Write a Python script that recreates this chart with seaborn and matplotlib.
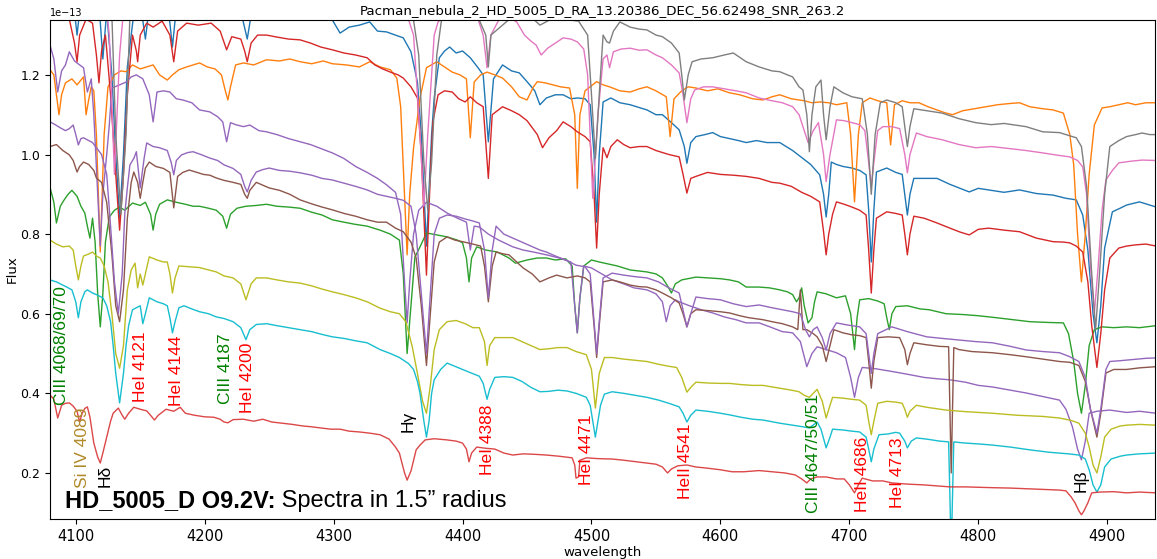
import numpy as np
import matplotlib
matplotlib.use("Agg")
import matplotlib.pyplot as plt
import seaborn as sns

# fluxes are in units of 1e-13 (shown as the exponent above the y axis)

# (wavelength, flux) points, one list per spectrum
blue = [(4080,1.42),(4095,1.41),(4099,1.36),(4101,1.30),(4103,1.36),(4110,1.41),(4118,1.38),(4121,1.24),(4124,1.36),
        (4128,1.20),(4131,1.00),(4134,0.84),(4137,1.00),(4140,1.22),(4146,1.38),(4151,1.36),(4154,1.29),(4157,1.37),
        (4165,1.40),(4172,1.36),(4175,1.27),(4178,1.37),(4190,1.40),(4205,1.39),(4215,1.38),(4228,1.36),(4233,1.29),
        (4237,1.37),(4255,1.37),(4275,1.36),(4290,1.35),(4299,1.338),(4305,1.305),(4312,1.32),(4320,1.325),(4328,1.333),
        (4334,1.31),(4341,1.308),(4348,1.30),(4354,1.293),(4360,1.258),(4365,1.182),(4368,1.05),(4372,0.77),(4376,1.05),
        (4378,1.142),(4382,1.243),(4386,1.26),(4390,1.27),(4395,1.255),(4400,1.26),(4406,1.243),(4412,1.218),(4416,1.20),
        (4420,1.032),(4424,1.19),(4428,1.21),(4431,1.225),(4438,1.21),(4444,1.205),(4450,1.183),(4456,1.16),(4460,1.125),
        (4465,1.142),(4472,1.15),(4478,1.15),(4484,1.14),(4489,1.142),(4495,1.14),(4499,1.125),(4502,1.0),(4504,0.83),
        (4506,1.0),(4509,1.132),(4515,1.142),(4522,1.13),(4530,1.125),(4537,1.118),(4543,1.112),(4550,1.10),(4555,1.10),
        (4562,1.08),(4568,1.062),(4572,1.02),(4574,0.978),(4577,1.03),(4581,1.045),(4588,1.05),(4594,1.055),(4600,1.045),
        (4607,1.04),(4614,1.035),(4620,1.03),(4628,1.035),(4636,1.03),(4646,1.03),(4656,1.01),(4664,0.99),(4670,0.975),
        (4677,0.949),(4680,0.90),(4682,0.843),(4684,0.90),(4686,0.981),(4690,0.975),(4695,0.97),(4702,0.966),(4708,0.96),
        (4713,0.949),(4715,0.86),(4717,0.73),(4719,0.86),(4721,0.956),(4729,0.966),(4736,0.955),(4741,0.95),(4743,0.90),
        (4745,0.848),(4747,0.90),(4750,0.94),(4758,0.94),(4768,0.94),(4778,0.925),(4786,0.915),(4793,0.906),(4800,0.915),
        (4810,0.91),(4820,0.905),(4832,0.911),(4845,0.902),(4858,0.898),(4868,0.89),(4876,0.886),(4881,0.848),(4885,0.76),
        (4889,0.60),(4892,0.527),(4895,0.62),(4898,0.765),(4904,0.856),(4910,0.865),(4915,0.873),(4925,0.881),(4931,0.875),
        (4938,0.868)]

orange = [(4080,1.213),(4083,1.20),(4085,1.15),(4087,1.10),(4089,1.15),(4092,1.18),(4097,1.19),(4101,1.175),(4106,1.195),
          (4108,1.10),(4110,1.137),(4112,1.17),(4114,1.16),(4116,1.05),(4119,0.755),(4122,1.05),(4125,1.17),(4130,1.20),
          (4135,1.21),(4139,1.208),(4144,1.225),(4150,1.215),(4155,1.22),(4160,1.225),(4165,1.20),(4171,1.187),(4175,1.20),
          (4180,1.213),(4186,1.22),(4191,1.225),(4196,1.23),(4202,1.22),(4208,1.215),(4213,1.20),(4216,1.16),(4218,1.137),
          (4220,1.17),(4224,1.225),(4230,1.23),(4238,1.225),(4248,1.238),(4258,1.235),(4266,1.24),(4274,1.233),(4283,1.228),
          (4292,1.235),(4299,1.228),(4310,1.225),(4320,1.22),(4328,1.233),(4336,1.22),(4344,1.213),(4349,1.192),(4352,1.12),
          (4355,0.9),(4357,0.748),(4359,0.9),(4362,1.017),(4367,1.142),(4372,1.218),(4380,1.233),(4386,1.22),(4392,1.207),
          (4398,1.20),(4403,1.19),(4406,1.042),(4409,1.182),(4414,1.20),(4419,1.207),(4425,1.20),(4431,1.192),(4438,1.17),
          (4444,1.145),(4450,1.137),(4455,1.17),(4458,1.183),(4464,1.18),(4470,1.175),(4476,1.17),(4483,1.167),(4487,1.10),
          (4489,0.915),(4491,1.10),(4495,1.16),(4504,1.183),(4509,1.175),(4514,1.17),(4522,1.16),(4530,1.157),(4537,1.165),
          (4543,1.17),(4550,1.16),(4558,1.145),(4561,1.045),(4564,1.14),(4570,1.16),(4575,1.17),(4581,1.167),(4590,1.16),
          (4598,1.165),(4607,1.155),(4615,1.15),(4625,1.14),(4633,1.137),(4640,1.145),(4646,1.15),(4655,1.14),(4665,1.135),
          (4671,1.13),(4677,1.132),(4684,1.13),(4690,1.125),(4698,1.13),(4701,1.05),(4704,0.881),(4707,1.05),(4710,1.13),
          (4716,1.142),(4722,1.135),(4729,1.13),(4732,1.024),(4735,1.125),(4741,1.135),(4747,1.13),(4754,1.13),(4761,1.12),
          (4768,1.112),(4774,1.105),(4780,1.10),(4788,1.11),(4797,1.115),(4806,1.12),(4815,1.125),(4824,1.128),(4832,1.13),
          (4840,1.12),(4850,1.115),(4858,1.112),(4866,1.104),(4871,1.05),(4874,0.974),(4877,0.80),(4880,0.68),(4883,0.80),
          (4886,0.95),(4890,1.074),(4896,1.117),(4902,1.12),(4909,1.125),(4916,1.13),(4922,1.125),(4930,1.13),(4938,1.13)]

green = [(4080,0.918),(4083,0.88),(4085,0.828),(4088,0.87),(4091,0.886),(4094,0.90),(4097,0.91),(4101,0.895),(4104,0.87),
         (4107,0.853),(4109,0.82),(4111,0.79),(4113,0.84),(4115,0.78),(4117,0.65),(4119,0.567),(4121,0.65),(4123,0.78),
         (4126,0.843),(4130,0.86),(4134,0.868),(4138,0.86),(4144,0.878),(4150,0.872),(4154,0.88),(4158,0.85),(4160,0.81),
         (4162,0.85),(4165,0.875),(4171,0.886),(4178,0.88),(4185,0.875),(4191,0.87),(4196,0.87),(4203,0.865),(4209,0.86),
         (4214,0.845),(4217,0.815),(4220,0.85),(4225,0.865),(4232,0.87),(4240,0.872),(4248,0.875),(4256,0.87),(4265,0.868),
         (4274,0.865),(4283,0.855),(4291,0.848),(4299,0.836),(4308,0.83),(4316,0.825),(4326,0.82),(4336,0.81),(4344,0.80),
         (4351,0.785),(4354,0.70),(4357,0.50),(4360,0.62),(4363,0.742),(4367,0.768),(4372,0.803),(4380,0.798),(4388,0.793),
         (4396,0.785),(4400,0.778),(4403,0.74),(4405,0.68),(4407,0.74),(4411,0.768),(4418,0.76),(4427,0.755),(4436,0.74),
         (4441,0.727),(4450,0.735),(4458,0.74),(4465,0.74),(4472,0.735),(4480,0.738),(4485,0.72),(4487,0.62),(4489,0.552),
         (4491,0.64),(4494,0.72),(4500,0.735),(4506,0.73),(4513,0.725),(4520,0.72),(4530,0.71),(4543,0.705),(4550,0.70),
         (4555,0.69),(4559,0.67),(4562,0.652),(4565,0.675),(4570,0.685),(4581,0.692),(4590,0.69),(4600,0.688),(4607,0.685),
         (4614,0.68),(4620,0.667),(4630,0.667),(4638,0.665),(4646,0.66),(4652,0.655),(4656,0.648),(4659,0.63),(4661,0.64),
         (4663,0.665),(4665,0.62),(4668,0.577),(4671,0.59),(4673,0.63),(4675,0.655),(4682,0.65),(4690,0.64),(4697,0.645),
         (4701,0.60),(4704,0.51),(4706,0.59),(4708,0.635),(4715,0.638),(4722,0.632),(4727,0.625),(4729,0.59),(4731,0.56),
         (4733,0.60),(4736,0.618),(4745,0.62),(4755,0.612),(4762,0.61),(4775,0.60),(4788,0.598),(4800,0.595),(4814,0.59),
         (4827,0.585),(4840,0.58),(4855,0.578),(4866,0.577),(4870,0.55),(4874,0.48),(4877,0.40),(4880,0.35),(4883,0.42),
         (4886,0.52),(4890,0.56),(4896,0.567),(4905,0.565),(4915,0.567),(4925,0.565),(4938,0.57)]

red_top = [(4080,1.36),(4088,1.35),(4095,1.34),(4099,1.28),(4101,1.233),(4103,1.30),(4108,1.34),(4113,1.33),(4116,1.25),
           (4118,1.18),(4120,1.26),(4123,1.30),(4127,1.15),(4131,0.95),(4134,0.81),(4137,0.95),(4140,1.15),(4144,1.30),
           (4147,1.26),(4148,1.233),(4150,1.30),(4155,1.33),(4160,1.32),(4167,1.335),(4173,1.30),(4176,1.233),(4179,1.31),
           (4186,1.33),(4195,1.325),(4205,1.33),(4212,1.31),(4217,1.263),(4221,1.296),(4228,1.29),(4231,1.26),(4233,1.233),
           (4236,1.28),(4241,1.30),(4248,1.30),(4256,1.295),(4265,1.29),(4274,1.288),(4282,1.28),(4290,1.27),(4299,1.263),
           (4308,1.255),(4317,1.25),(4326,1.243),(4332,1.225),(4338,1.215),(4344,1.207),(4350,1.20),(4354,1.192),(4360,1.17),
           (4365,1.142),(4368,1.00),(4372,0.697),(4375,0.95),(4377,1.082),(4381,1.15),(4386,1.16),(4392,1.157),(4397,1.14),
           (4402,1.132),(4406,1.145),(4411,1.13),(4416,1.12),(4420,0.94),(4423,1.10),(4427,1.11),(4431,1.12),(4438,1.11),
           (4444,1.10),(4450,1.085),(4458,1.05),(4462,1.017),(4467,1.042),(4473,1.06),(4478,1.082),(4484,1.07),(4489,1.057),
           (4495,1.045),(4499,1.032),(4502,0.90),(4504,0.765),(4506,0.90),(4509,1.017),(4512,0.992),(4515,1.02),(4520,1.037),
           (4525,1.025),(4530,1.017),(4537,1.02),(4543,1.02),(4550,1.01),(4560,1.00),(4568,0.994),(4571,0.95),(4574,0.903),
           (4577,0.94),(4581,0.945),(4590,0.955),(4600,0.95),(4610,0.948),(4620,0.945),(4630,0.94),(4640,0.93),(4646,0.928),
           (4655,0.92),(4663,0.905),(4670,0.895),(4677,0.881),(4680,0.806),(4682,0.748),(4684,0.80),(4687,0.85),(4690,0.881),
           (4696,0.875),(4702,0.868),(4708,0.86),(4713,0.848),(4715,0.76),(4717,0.652),(4719,0.76),(4721,0.84),(4729,0.856),
           (4736,0.852),(4741,0.848),(4743,0.80),(4745,0.748),(4747,0.80),(4750,0.845),(4758,0.84),(4768,0.828),(4778,0.815),
           (4786,0.805),(4793,0.798),(4800,0.812),(4808,0.815),(4820,0.81),(4832,0.806),(4845,0.79),(4858,0.781),(4866,0.78),
           (4871,0.778),(4876,0.77),(4881,0.755),(4885,0.68),(4888,0.57),(4892,0.465),(4895,0.55),(4898,0.66),(4902,0.74),
           (4909,0.765),(4915,0.77),(4922,0.773),(4930,0.775),(4938,0.77)]

purple_a = [(4080,1.275),(4083,1.24),(4086,1.157),(4089,1.21),(4092,1.225),(4095,1.258),(4099,1.235),(4103,1.225),
            (4106,1.218),(4109,1.157),(4112,1.19),(4114,1.10),(4117,0.90),(4119,0.77),(4121,0.90),(4124,1.00),(4126,1.074),
            (4128,1.167),(4134,1.175),(4139,1.182),(4143,1.195),(4147,1.20),(4152,1.19),(4157,1.15),(4160,1.082),(4163,1.157),
            (4168,1.16),(4173,1.157),(4178,1.14),(4183,1.137),(4190,1.13),(4196,1.112),(4204,1.107),(4210,1.095),(4214,1.082),
            (4217,1.032),(4220,1.08),(4224,1.075),(4230,1.07),(4235,1.074),(4242,1.06),(4248,1.057),(4256,1.05),(4265,1.04),
            (4274,1.032),(4282,1.025),(4290,1.015),(4299,1.004),(4308,0.99),(4317,0.97),(4326,0.955),(4334,0.94),(4341,0.924),
            (4348,0.905),(4352,0.85),(4355,0.68),(4357,0.577),(4359,0.68),(4362,0.80),(4366,0.86),(4372,0.88),(4380,0.87),
            (4388,0.853),(4396,0.84),(4403,0.83),(4406,0.76),(4409,0.82),(4413,0.818),(4420,0.80),(4428,0.785),(4439,0.768),
            (4447,0.76),(4455,0.755),(4465,0.748),(4475,0.74),(4484,0.73),(4487,0.62),(4489,0.552),(4491,0.64),(4494,0.72),
            (4500,0.715),(4508,0.70),(4516,0.685),(4525,0.675),(4533,0.665),(4543,0.66),(4550,0.65),(4555,0.63),(4558,0.58),
            (4561,0.62),(4565,0.635),(4568,0.63),(4576,0.62),(4585,0.61),(4594,0.602),(4603,0.592),(4612,0.585),(4620,0.577),
            (4630,0.577),(4640,0.565),(4648,0.555),(4656,0.552),(4662,0.53),(4667,0.467),(4671,0.50),(4675,0.517),(4682,0.51),
            (4690,0.502),(4697,0.49),(4701,0.44),(4704,0.39),(4707,0.44),(4710,0.465),(4720,0.462),(4733,0.455),(4745,0.448),
            (4758,0.44),(4770,0.436),(4778,0.434),(4790,0.428),(4800,0.42),(4811,0.416),(4825,0.408),(4837,0.401),(4850,0.392),
            (4863,0.383),(4868,0.36),(4873,0.316),(4877,0.26),(4880,0.233),(4883,0.28),(4886,0.35),(4892,0.355),(4902,0.358),
            (4915,0.352),(4925,0.355),(4938,0.35)]

brown = [(4080,1.02),(4085,1.025),(4090,1.01),(4095,0.999),(4098,0.985),(4101,0.956),(4103,0.97),(4106,0.981),(4110,0.975),
         (4114,0.96),(4116,0.941),(4120,0.93),(4124,0.88),(4128,0.75),(4131,0.62),(4134,0.58),(4137,0.66),(4140,0.84),
         (4143,0.93),(4145,0.956),(4148,0.93),(4150,0.89),(4152,0.93),(4154,0.966),(4157,0.981),(4162,0.97),(4168,0.965),
         (4173,0.955),(4176,0.866),(4179,0.945),(4183,0.955),(4188,0.961),(4194,0.955),(4199,0.95),(4204,0.948),(4209,0.941),
         (4215,0.935),(4222,0.93),(4228,0.925),(4231,0.90),(4233,0.89),(4235,0.91),(4240,0.93),(4250,0.916),(4258,0.91),
         (4266,0.90),(4274,0.886),(4283,0.876),(4291,0.868),(4299,0.861),(4308,0.852),(4317,0.845),(4326,0.836),(4334,0.83),
         (4341,0.83),(4348,0.815),(4354,0.806),(4360,0.78),(4364,0.74),(4368,0.62),(4372,0.47),(4375,0.60),(4378,0.73),
         (4382,0.78),(4388,0.793),(4394,0.785),(4400,0.781),(4408,0.775),(4414,0.77),(4417,0.72),(4420,0.63),(4423,0.72),
         (4426,0.755),(4432,0.75),(4436,0.748),(4442,0.73),(4447,0.715),(4454,0.70),(4460,0.68),(4467,0.69),(4473,0.697),
         (4481,0.69),(4489,0.695),(4495,0.69),(4499,0.68),(4502,0.57),(4504,0.49),(4506,0.57),(4509,0.68),(4516,0.685),
         (4522,0.68),(4530,0.672),(4537,0.668),(4543,0.667),(4550,0.66),(4555,0.652),(4562,0.64),(4568,0.627),(4571,0.60),
         (4574,0.567),(4577,0.60),(4581,0.61),(4590,0.608),(4600,0.605),(4607,0.602),(4615,0.595),(4622,0.59),(4633,0.585),
         (4640,0.58),(4648,0.575),(4656,0.567),(4660,0.56),(4662,0.66),(4664,0.56),(4667,0.56),(4672,0.55),(4675,0.542),
         (4679,0.52),(4682,0.48),(4685,0.52),(4688,0.56),(4695,0.552),(4702,0.547),(4708,0.545),(4713,0.54),(4715,0.48),
         (4717,0.413),(4719,0.48),(4722,0.54),(4730,0.542),(4739,0.54),(4743,0.51),(4745,0.472),(4747,0.50),(4750,0.527),
         (4760,0.522),(4770,0.518),(4777,0.517),(4779,0.20),(4781,0.515),(4785,0.51),(4795,0.505),(4811,0.502),(4825,0.497),
         (4837,0.492),(4850,0.486),(4863,0.48),(4871,0.478),(4878,0.47),(4883,0.43),(4887,0.36),(4892,0.29),(4895,0.35),
         (4899,0.451),(4905,0.46),(4915,0.46),(4925,0.464),(4938,0.467)]

pink = [(4080,1.52),(4100,1.50),(4120,1.48),(4126,1.30),(4130,0.95),(4134,1.25),(4140,1.47),(4160,1.46),(4175,1.40),
        (4180,1.45),(4200,1.44),(4230,1.42),(4260,1.41),(4300,1.40),(4330,1.39),(4355,1.37),(4362,1.30),(4367,1.05),
        (4370,0.87),(4373,1.05),(4378,1.30),(4381,1.333),(4390,1.36),(4400,1.37),(4410,1.36),(4416,1.30),(4419,1.218),
        (4422,1.30),(4430,1.35),(4438,1.34),(4442,1.333),(4448,1.30),(4453,1.285),(4457,1.275),(4461,1.25),(4466,1.267),
        (4472,1.28),(4478,1.293),(4484,1.29),(4489,1.283),(4494,1.265),(4497,1.20),(4501,0.89),(4505,1.10),(4509,1.24),
        (4512,1.25),(4514,1.218),(4517,1.258),(4523,1.265),(4530,1.267),(4537,1.262),(4543,1.263),(4550,1.25),(4555,1.243),
        (4562,1.225),(4568,1.205),(4571,1.15),(4574,1.08),(4577,1.14),(4580,1.162),(4587,1.17),(4594,1.17),(4603,1.165),
        (4612,1.16),(4620,1.155),(4630,1.142),(4640,1.135),(4648,1.13),(4656,1.12),(4661,1.10),(4664,1.07),(4668,1.03),
        (4672,1.06),(4676,1.08),(4680,1.00),(4682,0.932),(4685,1.00),(4690,1.087),(4696,1.085),(4702,1.08),(4708,1.075),
        (4712,1.06),(4715,0.98),(4717,0.92),(4719,0.98),(4722,1.06),(4726,1.07),(4733,1.07),(4739,1.065),(4743,1.00),
        (4745,0.954),(4747,1.00),(4752,1.054),(4760,1.045),(4772,1.037),(4785,1.025),(4798,1.017),(4810,1.02),(4824,1.015),
        (4837,1.01),(4850,1.004),(4862,0.998),(4871,0.994),(4877,0.985),(4881,0.969),(4884,0.90),(4887,0.72),(4890,0.60),
        (4893,0.72),(4896,0.86),(4899,0.936),(4904,0.96),(4909,0.979),(4918,0.983),(4927,0.986),(4938,0.985)]

gray = [(4080,1.60),(4100,1.58),(4120,1.55),(4128,1.35),(4131,1.05),(4135,0.85),(4139,1.05),(4142,1.35),(4150,1.53),
        (4175,1.50),(4200,1.48),(4230,1.46),(4260,1.44),(4300,1.42),(4340,1.40),(4360,1.38),(4366,1.25),(4370,0.98),
        (4373,0.86),(4376,0.98),(4380,1.25),(4385,1.37),(4410,1.36),(4418,1.30),(4420,1.22),(4422,1.30),(4440,1.35),
        (4455,1.34),(4460,1.325),(4467,1.337),(4478,1.34),(4490,1.335),(4497,1.30),(4500,1.15),(4503,0.99),(4506,1.15),
        (4509,1.30),(4512,1.283),(4514,1.28),(4517,1.31),(4522,1.333),(4530,1.32),(4537,1.315),(4543,1.313),(4550,1.30),
        (4555,1.296),(4562,1.28),(4568,1.255),(4570,1.20),(4572,1.137),(4575,1.20),(4578,1.233),(4585,1.24),(4594,1.243),
        (4603,1.25),(4610,1.255),(4620,1.233),(4630,1.22),(4640,1.21),(4646,1.208),(4652,1.20),(4656,1.195),(4661,1.17),
        (4664,1.162),(4667,1.10),(4669,1.007),(4671,1.10),(4674,1.17),(4678,1.187),(4680,1.10),(4682,1.037),(4685,1.12),
        (4688,1.17),(4695,1.155),(4702,1.145),(4710,1.14),(4714,1.05),(4717,0.90),(4720,1.05),(4724,1.13),(4729,1.137),
        (4736,1.13),(4741,1.12),(4743,1.07),(4745,1.02),(4747,1.07),(4750,1.115),(4760,1.11),(4772,1.104),(4785,1.09),
        (4798,1.08),(4810,1.075),(4820,1.078),(4837,1.07),(4850,1.057),(4863,1.055),(4870,1.048),(4876,1.042),(4880,1.02),
        (4884,0.92),(4888,0.70),(4891,0.56),(4894,0.70),(4898,0.90),(4902,1.02),(4909,1.035),(4915,1.045),(4922,1.05),
        (4927,1.054),(4933,1.05),(4938,1.05)]

olive = [(4080,0.785),(4085,0.775),(4090,0.768),(4095,0.77),(4098,0.76),(4100,0.72),(4102,0.685),(4104,0.72),(4106,0.745),
         (4110,0.75),(4113,0.755),(4116,0.745),(4119,0.74),(4122,0.72),(4125,0.68),(4128,0.60),(4131,0.50),(4134,0.463),
         (4137,0.52),(4140,0.66),(4143,0.71),(4146,0.727),(4148,0.665),(4150,0.70),(4152,0.672),(4154,0.70),(4157,0.743),
         (4163,0.735),(4168,0.73),(4171,0.73),(4173,0.70),(4175,0.652),(4177,0.69),(4180,0.72),(4188,0.718),(4196,0.716),
         (4203,0.71),(4209,0.705),(4215,0.695),(4222,0.69),(4228,0.675),(4232,0.635),(4236,0.675),(4240,0.69),(4248,0.69),
         (4256,0.685),(4265,0.68),(4274,0.677),(4283,0.67),(4291,0.662),(4299,0.655),(4308,0.648),(4317,0.64),(4326,0.63),
         (4336,0.614),(4344,0.605),(4351,0.60),(4356,0.58),(4361,0.517),(4365,0.45),(4369,0.38),(4372,0.35),(4375,0.42),
         (4378,0.51),(4382,0.56),(4388,0.58),(4395,0.583),(4402,0.575),(4408,0.565),(4413,0.565),(4417,0.53),(4419,0.47),
         (4421,0.52),(4425,0.54),(4432,0.54),(4439,0.54),(4446,0.53),(4453,0.52),(4460,0.51),(4467,0.512),(4474,0.515),
         (4481,0.515),(4488,0.505),(4496,0.497),(4500,0.46),(4503,0.363),(4506,0.45),(4510,0.49),(4516,0.49),(4525,0.486),
         (4534,0.483),(4543,0.48),(4552,0.473),(4560,0.468),(4566,0.465),(4570,0.44),(4574,0.403),(4577,0.415),(4581,0.428),
         (4590,0.426),(4600,0.425),(4607,0.425),(4616,0.422),(4625,0.42),(4633,0.42),(4646,0.413),(4655,0.408),(4661,0.404),
         (4665,0.395),(4669,0.39),(4672,0.40),(4675,0.41),(4679,0.38),(4682,0.338),(4685,0.37),(4687,0.39),(4695,0.388),
         (4702,0.385),(4708,0.383),(4713,0.37),(4715,0.33),(4717,0.296),(4719,0.33),(4722,0.375),(4729,0.38),(4736,0.378),
         (4741,0.375),(4743,0.36),(4745,0.34),(4747,0.355),(4752,0.37),(4760,0.365),(4775,0.358),(4790,0.354),(4811,0.35),
         (4830,0.345),(4850,0.342),(4863,0.338),(4872,0.332),(4878,0.325),(4883,0.30),(4886,0.265),(4889,0.22),(4892,0.2),
         (4895,0.24),(4898,0.29),(4903,0.31),(4910,0.318),(4915,0.32),(4925,0.322),(4938,0.32)]

cyan = [(4080,0.685),(4085,0.68),(4090,0.672),(4093,0.667),(4097,0.66),(4100,0.63),(4102,0.59),(4104,0.63),(4107,0.655),
        (4109,0.66),(4113,0.652),(4116,0.648),(4121,0.64),(4124,0.62),(4127,0.58),(4129,0.52),(4131,0.45),(4134,0.376),
        (4137,0.45),(4139,0.52),(4141,0.57),(4144,0.61),(4147,0.615),(4150,0.62),(4152,0.575),(4154,0.60),(4157,0.64),
        (4163,0.63),(4168,0.625),(4171,0.62),(4173,0.59),(4175,0.552),(4177,0.58),(4180,0.615),(4184,0.62),(4190,0.612),
        (4196,0.605),(4203,0.60),(4209,0.592),(4215,0.588),(4222,0.58),(4228,0.565),(4232,0.535),(4235,0.56),(4240,0.573),
        (4248,0.575),(4256,0.57),(4265,0.565),(4274,0.56),(4283,0.555),(4291,0.548),(4299,0.542),(4308,0.538),(4317,0.532),
        (4326,0.527),(4336,0.51),(4344,0.50),(4351,0.49),(4358,0.475),(4362,0.46),(4365,0.43),(4367,0.40),(4370,0.33),
        (4372,0.29),(4374,0.33),(4376,0.40),(4378,0.434),(4383,0.46),(4388,0.476),(4394,0.468),(4400,0.46),(4406,0.452),
        (4413,0.443),(4416,0.425),(4419,0.385),(4421,0.41),(4425,0.44),(4432,0.442),(4439,0.44),(4446,0.43),(4453,0.415),
        (4460,0.404),(4467,0.405),(4474,0.408),(4481,0.406),(4488,0.40),(4496,0.39),(4499,0.37),(4501,0.33),(4503,0.29),
        (4505,0.33),(4507,0.37),(4510,0.398),(4516,0.404),(4525,0.40),(4534,0.395),(4543,0.39),(4552,0.383),(4560,0.375),
        (4568,0.366),(4571,0.35),(4574,0.328),(4577,0.345),(4581,0.358),(4590,0.355),(4600,0.35),(4607,0.346),(4616,0.34),
        (4625,0.335),(4633,0.333),(4646,0.325),(4656,0.32),(4664,0.316),(4669,0.313),(4675,0.328),(4678,0.31),(4682,0.263),
        (4685,0.29),(4687,0.31),(4695,0.308),(4702,0.305),(4708,0.303),(4713,0.29),(4715,0.26),(4717,0.228),(4719,0.26),
        (4723,0.296),(4730,0.298),(4736,0.302),(4739,0.30),(4743,0.28),(4745,0.263),(4748,0.28),(4752,0.288),(4760,0.285),
        (4770,0.28),(4777,0.278),(4779,0.0),(4781,0.278),(4790,0.275),(4800,0.273),(4811,0.27),(4825,0.265),(4840,0.258),
        (4855,0.252),(4863,0.25),(4870,0.248),(4878,0.245),(4883,0.235),(4886,0.208),(4889,0.17),(4892,0.152),(4895,0.17),
        (4898,0.215),(4903,0.235),(4910,0.242),(4915,0.245),(4925,0.248),(4938,0.25)]

purple_b = [(4080,1.082),(4084,1.075),(4088,1.067),(4092,1.06),(4095,1.065),(4098,1.074),(4100,1.05),(4102,1.024),(4104,1.04),
            (4106,1.042),(4110,1.035),(4113,1.03),(4116,1.017),(4120,1.00),(4124,0.95),(4127,0.82),(4130,0.68),(4133,0.60),
            (4136,0.70),(4138,0.85),(4140,0.916),(4142,0.974),(4145,0.99),(4147,1.007),(4150,0.916),(4153,0.99),(4155,1.029),
            (4160,1.02),(4165,1.017),(4171,1.01),(4174,0.98),(4176,0.949),(4178,0.985),(4182,0.999),(4187,1.005),(4191,1.007),
            (4197,1.0),(4204,0.991),(4210,0.985),(4215,0.974),(4222,0.965),(4228,0.95),(4231,0.92),(4233,0.906),(4236,0.935),
            (4240,0.956),(4245,0.962),(4250,0.966),(4258,0.96),(4266,0.958),(4274,0.954),(4283,0.948),(4291,0.94),(4299,0.936),
            (4308,0.928),(4317,0.92),(4326,0.911),(4334,0.90),(4341,0.895),(4348,0.89),(4354,0.885),(4360,0.87),(4364,0.80),
            (4368,0.65),(4372,0.50),(4375,0.65),(4378,0.80),(4382,0.84),(4388,0.848),(4395,0.845),(4402,0.838),(4408,0.833),
            (4413,0.828),(4417,0.76),(4420,0.64),(4423,0.76),(4426,0.82),(4432,0.80),(4439,0.79),(4446,0.78),(4453,0.77),
            (4460,0.76),(4465,0.755),(4472,0.745),(4480,0.735),(4488,0.722),(4495,0.718),(4499,0.70),(4502,0.58),(4504,0.50),
            (4506,0.58),(4509,0.69),(4516,0.702),(4525,0.697),(4534,0.693),(4543,0.69),(4552,0.68),(4560,0.665),(4568,0.652),
            (4571,0.61),(4574,0.567),(4577,0.60),(4581,0.642),(4590,0.638),(4600,0.635),(4610,0.625),(4620,0.618),(4630,0.622),
            (4640,0.615),(4648,0.61),(4656,0.605),(4662,0.60),(4666,0.56),(4669,0.542),(4672,0.56),(4675,0.567),(4679,0.54),
            (4682,0.509),(4685,0.55),(4690,0.577),(4698,0.572),(4708,0.567),(4713,0.55),(4715,0.50),(4717,0.45),(4719,0.50),
            (4722,0.55),(4733,0.567),(4745,0.555),(4760,0.542),(4772,0.538),(4785,0.534),(4798,0.53),(4811,0.527),(4825,0.518),
            (4837,0.509),(4850,0.505),(4863,0.502),(4871,0.492),(4878,0.48),(4883,0.44),(4887,0.36),(4892,0.30),(4895,0.36),
            (4899,0.46),(4902,0.48),(4910,0.482),(4920,0.485),(4930,0.488),(4938,0.489)]

red_low = [(4080,0.396),(4083,0.385),(4086,0.338),(4089,0.37),(4092,0.375),(4095,0.376),(4098,0.368),(4101,0.355),(4103,0.328),
           (4105,0.35),(4107,0.362),(4109,0.366),(4111,0.34),(4114,0.275),(4117,0.24),(4119,0.225),(4121,0.25),(4124,0.29),
           (4127,0.33),(4129,0.35),(4133,0.363),(4136,0.345),(4138,0.335),(4141,0.35),(4145,0.365),(4150,0.36),(4155,0.356),
           (4158,0.345),(4161,0.333),(4164,0.345),(4170,0.36),(4176,0.355),(4181,0.365),(4185,0.35),(4192,0.345),(4200,0.341),
           (4207,0.34),(4212,0.335),(4215,0.328),(4218,0.326),(4222,0.334),(4230,0.335),(4238,0.33),(4245,0.335),(4252,0.328),
           (4260,0.325),(4268,0.322),(4276,0.318),(4283,0.316),(4290,0.313),(4298,0.31),(4305,0.31),(4312,0.305),(4320,0.303),
           (4328,0.30),(4336,0.296),(4343,0.285),(4348,0.265),(4351,0.25),(4355,0.20),(4357,0.182),(4360,0.205),(4364,0.258),
           (4367,0.27),(4371,0.283),(4378,0.286),(4388,0.283),(4395,0.28),(4400,0.275),(4403,0.26),(4405,0.228),(4407,0.25),
           (4411,0.265),(4418,0.262),(4425,0.26),(4432,0.25),(4439,0.245),(4447,0.248),(4455,0.247),(4465,0.245),(4475,0.242),
           (4485,0.238),(4487,0.22),(4488,0.187),(4490,0.19),(4491,0.232),(4496,0.238),(4505,0.236),(4516,0.235),(4525,0.232),
           (4535,0.228),(4543,0.225),(4550,0.222),(4555,0.215),(4559,0.20),(4562,0.21),(4567,0.218),(4574,0.22),(4581,0.215),
           (4590,0.212),(4600,0.208),(4609,0.203),(4618,0.203),(4630,0.206),(4640,0.203),(4650,0.20),(4658,0.195),(4663,0.185),
           (4667,0.175),(4670,0.185),(4675,0.19),(4682,0.19),(4690,0.185),(4696,0.185),(4700,0.17),(4704,0.15),(4707,0.17),
           (4710,0.187),(4718,0.18),(4726,0.18),(4733,0.175),(4745,0.172),(4758,0.17),(4770,0.167),(4778,0.165),(4790,0.165),
           (4800,0.164),(4811,0.163),(4825,0.162),(4840,0.16),(4855,0.158),(4863,0.157),(4868,0.155),(4872,0.14),(4875,0.125),
           (4878,0.105),(4880,0.095),(4882,0.105),(4885,0.125),(4888,0.15),(4894,0.152),(4905,0.153),(4915,0.15),(4925,0.152),
           (4938,0.15)]

# line identifications: label, wavelength position, flux position (bottom of rotated text)
line_labels = ["CIII 4068/69/70", "Si IV 4089", "H\u03b4", "HeI 4121", "HeI 4144", "CIII 4187", "HeI 4200",
               "H\u03b3", "HeI 4388", "HeI 4471", "HeII 4541", "CIII 4647/50/51", "HeII 4686", "HeI 4713", "H\u03b2"]
label_wl = [4089, 4105, 4123, 4150, 4178, 4216, 4233, 4358, 4419, 4496, 4573, 4672, 4710, 4737, 4880]
label_fx = [0.371, 0.162, 0.165, 0.378, 0.368, 0.373, 0.351, 0.303, 0.195, 0.170, 0.135, 0.100, 0.102, 0.112, 0.152]
label_colors = ["green", "#b08a2a", "black", "red", "red", "green", "red",
                "black", "red", "red", "red", "green", "red", "red", "black"]

spectra = [(blue, "tab:blue", 1.0), (orange, "tab:orange", 1.0), (green, "tab:green", 1.0),
           (red_top, "tab:red", 1.0), (purple_a, "tab:purple", 1.0), (brown, "tab:brown", 1.0),
           (pink, "tab:pink", 1.0), (gray, "tab:gray", 1.0), (olive, "tab:olive", 1.0),
           (cyan, "tab:cyan", 1.0), (purple_b, "tab:purple", 1.0), (red_low, "tab:red", 0.85)]

fig = plt.figure(figsize=(11.57, 5.59), dpi=100)
ax = fig.add_axes([0.0432, 0.0716, 0.955, 0.8927])

for pts, col, alpha in spectra:
    wl = np.array([p[0] for p in pts], dtype=float)
    fx = np.array([p[1] for p in pts], dtype=float)
    sns.lineplot(x=wl, y=fx, color=col, alpha=alpha, linewidth=1.0,
                 estimator=None, sort=False, ax=ax)

ax.set_xlim(4080, 4937)
ax.set_ylim(0.0844, 1.338)
ax.tick_params(axis="x", labelsize=10.5)
ax.tick_params(axis="y", labelsize=9)

# exponent of the flux scale, above the y axis
ax.text(0.0, 1.004, "1e\u221213", transform=ax.transAxes, fontsize=7, ha="left", va="bottom")

ax.set_title("Pacman_nebula_2_HD_5005_D_RA_13.20386_DEC_56.62498_SNR_263.2", fontsize=9.6, pad=4)
ax.set_xlabel("wavelength", fontsize=9.6, labelpad=2)
ax.set_ylabel("Flux", fontsize=9.6, labelpad=1)

for lab, lw_, lf, lc in zip(line_labels, label_wl, label_fx, label_colors):
    ax.text(lw_, lf, lab, rotation=90, ha="center", va="bottom", color=lc,
            fontsize=12.5, family=["Liberation Sans", "DejaVu Sans"])

t1 = ax.text(4091.6, 0.1146, "HD_5005_D O9.2V:", fontsize=17, fontweight="bold",
             family=["Liberation Sans", "DejaVu Sans"], va="baseline", ha="left")
ax.annotate(" Spectra in 1.5\u201d radius", xy=(1, 0), xycoords=t1, fontsize=17,
            family=["Liberation Sans", "DejaVu Sans"], va="bottom", ha="left")

fig.savefig("out.png", dpi=100)
